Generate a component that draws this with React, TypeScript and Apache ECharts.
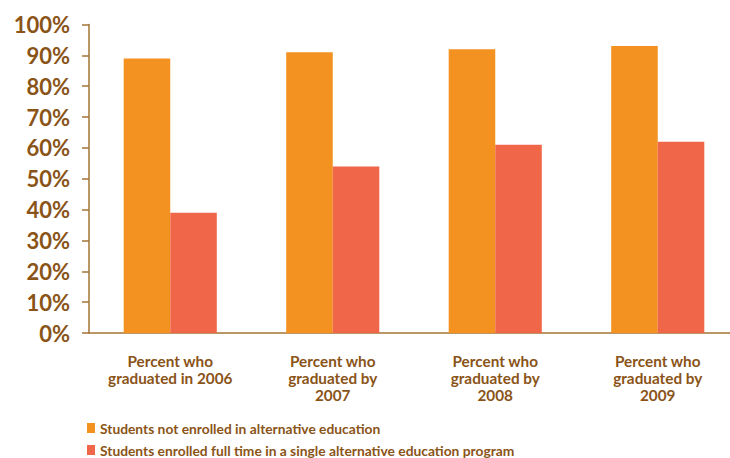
import React, { useEffect, useRef } from "react";
import * as echarts from "echarts";

const categories = [
  "Percent who\ngraduated in 2006",
  "Percent who\ngraduated by\n2007",
  "Percent who\ngraduated by\n2008",
  "Percent who\ngraduated by\n2009",
];
const seriesNames = [
  "Students not enrolled in alternative education",
  "Students enrolled full time in a single alternative education program",
];
const notEnrolled = [89, 91, 92, 93];
const enrolledAlt = [39, 54, 61, 62];
const yTicks = [0, 10, 20, 30, 40, 50, 60, 70, 80, 90, 100];

const TEXT = "#8A5418";
const AXIS = "#A57434";
const FONT = "Lato";

export default function App() {
  const ref = useRef<HTMLDivElement>(null);
  useEffect(() => {
    if (!ref.current) return;
    const chart = echarts.init(ref.current, undefined, { renderer: "svg" });
    chart.setOption({
      animation: false,
      backgroundColor: "#ffffff",
      textStyle: { fontFamily: FONT },
      grid: { left: 89, top: 24.5, bottom: 125, width: 650, outerBoundsMode: "none", containLabel: false },
      legend: {
        orient: "vertical",
        left: 82,
        top: 416,
        height: 80,
        itemWidth: 8,
        itemHeight: 10,
        itemGap: 8,
        icon: "rect",
        textStyle: { color: TEXT, fontSize: 13.8, fontWeight: "bold", lineHeight: 13, fontFamily: FONT },
        data: seriesNames,
      },
      xAxis: {
        type: "category",
        data: categories,
        axisLine: { lineStyle: { color: AXIS, width: 1.5 } },
        axisTick: { show: false },
        axisLabel: {
          color: TEXT,
          fontSize: 15.3,
          fontWeight: "bold",
          lineHeight: 17,
          margin: 19,
          interval: 0,
          align: "center",
        },
      },
      yAxis: {
        type: "value",
        min: yTicks[0],
        max: yTicks[yTicks.length - 1],
        interval: 10,
        splitLine: { show: false },
        axisLine: { show: true, lineStyle: { color: AXIS, width: 1.5 } },
        axisTick: { show: true, length: 7, lineStyle: { color: AXIS, width: 1.5 } },
        axisLabel: {
          color: TEXT,
          fontSize: 22,
          fontWeight: "bold",
          margin: 19,
          formatter: "{value}%",
        },
      },
      series: [
        {
          name: seriesNames[0],
          type: "bar",
          data: notEnrolled,
          barGap: "0%",
          barCategoryGap: "42.7%",
          itemStyle: { color: "#F39220" },
        },
        {
          name: seriesNames[1],
          type: "bar",
          data: enrolledAlt,
          itemStyle: { color: "#F06649" },
        },
      ],
    });
    return () => chart.dispose();
  }, []);
  return (
    <div
      ref={ref}
      style={{ position: "absolute", left: 0, top: 0, width: 730, height: 458 }}
    />
  );
}
